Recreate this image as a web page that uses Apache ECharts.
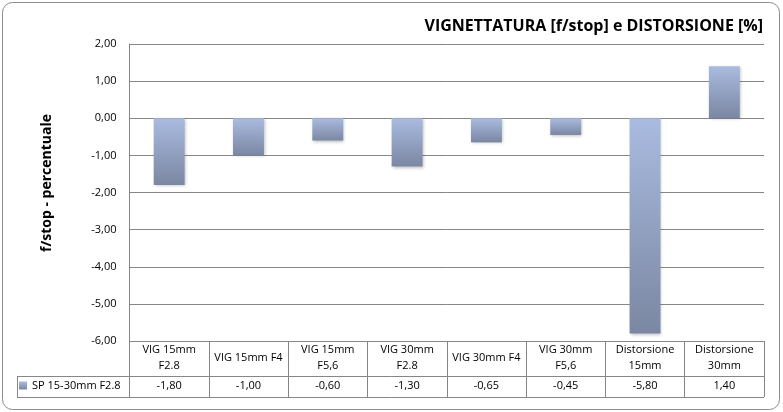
<!DOCTYPE html>
<html>
<head>
<meta charset="utf-8">
<script src="https://cdn.jsdelivr.net/npm/echarts@6/dist/echarts.min.js"></script>
<style>html,body{margin:0;padding:0;background:#fff}#c{width:783px;height:412px}</style>
</head>
<body>
<div id="c"></div>
<script>
var categories = ['VIG 15mm F2.8','VIG 15mm F4','VIG 15mm F5,6','VIG 30mm F2.8','VIG 30mm F4','VIG 30mm F5,6','Distorsione 15mm','Distorsione 30mm'];
var values = [-1.80,-1.00,-0.60,-1.30,-0.65,-0.45,-5.80,1.40];
var seriesName = 'SP 15-30mm F2.8';
var titleText = 'VIGNETTATURA [f/stop] e DISTORSIONE [%]';
var yAxisName = 'f/stop - percentuale';
var yMin = -6, yMax = 2, yStep = 1;

function fmt(v){ return v.toFixed(2).replace('.', ','); }

var FONT = 'Open Sans';
var GRID = '#868686';

var measureCtx = document.createElement('canvas').getContext('2d');
measureCtx.font = '11px "' + FONT + '"';
function wrapWords(text, maxW){
  var words = text.split(' '), lines = [], cur = '';
  for (var i = 0; i < words.length; i++){
    var test = cur ? cur + ' ' + words[i] : words[i];
    if (cur && measureCtx.measureText(test).width > maxW){ lines.push(cur); cur = words[i]; }
    else cur = test;
  }
  if (cur) lines.push(cur);
  return lines.join('\n');
}

var chart = echarts.init(document.getElementById('c'), null, {renderer:'canvas'});
var option = {
  animation:false,
  backgroundColor:'#fff',
  textStyle:{fontFamily:FONT},
  title:{
    text:titleText, right:15, top:13,
    textStyle:{fontFamily:FONT, fontWeight:'bold', fontSize:16, color:'#000'}
  },
  legend:{
    data:[seriesName], left:19, top:380, itemWidth:8, itemHeight:8, itemGap:4,
    icon:'rect', padding:0,
    textStyle:{fontFamily:FONT, fontSize:11, color:'#000'}
  },
  grid:{left:129.5, right:19, top:44, bottom:71, containLabel:false},
  xAxis:[{
    type:'category', data:categories, position:'bottom',
    axisLine:{show:true, onZero:false, lineStyle:{color:GRID}},
    axisTick:{show:true, length:56, lineStyle:{color:GRID}},
    axisLabel:{
      fontFamily:FONT, fontSize:11, color:'#000', interval:0,
      margin:17, verticalAlign:'middle', lineHeight:16, align:'center',
      formatter:function(v){ return wrapWords(v, 71); }
    }
  },{
    type:'category', data:categories, position:'bottom',
    axisLine:{show:false}, axisTick:{show:false},
    axisLabel:{
      fontFamily:FONT, fontSize:11, color:'#000', interval:0,
      margin:45, verticalAlign:'middle',
      formatter:function(v, i){ return fmt(values[i]); }
    }
  }],
  yAxis:{
    type:'value', min:yMin, max:yMax, interval:yStep,
    axisLine:{show:true, lineStyle:{color:GRID}},
    axisTick:{show:false},
    splitLine:{show:true, lineStyle:{color:GRID}},
    axisLabel:{fontFamily:FONT, fontSize:11, color:'#000', margin:13, formatter:function(v){return fmt(v);}}
  },
  series:[{
    name:seriesName, type:'bar', data:values, barWidth:'39%',
    itemStyle:{
      color:{type:'linear', x:0, y:0, x2:0, y2:1, colorStops:[
        {offset:0, color:'#a9bbe0'},{offset:1, color:'#7b87a2'}]},
      shadowBlur:3, shadowColor:'rgba(0,0,0,0.25)', shadowOffsetX:1, shadowOffsetY:1
    }
  }],
  graphic:[
    {type:'rect', shape:{x:2.5, y:2.5, width:777, height:407, r:10}, style:{fill:'none', stroke:'#8c8c8c', lineWidth:1}, silent:true},
    {type:'line', shape:{x1:17, y1:376.5, x2:764, y2:376.5}, style:{stroke:GRID, lineWidth:1}},
    {type:'line', shape:{x1:17, y1:397.5, x2:764, y2:397.5}, style:{stroke:GRID, lineWidth:1}},
    {type:'line', shape:{x1:17.5, y1:376.5, x2:17.5, y2:397.5}, style:{stroke:GRID, lineWidth:1}},
    {type:'text', x:47, y:183, rotation:Math.PI/2,
      style:{text:yAxisName, fontFamily:FONT, fontWeight:'bold', fontSize:14, fill:'#000', align:'center', verticalAlign:'middle'}}
  ]
};
chart.setOption(option);
</script>
</body>
</html>
